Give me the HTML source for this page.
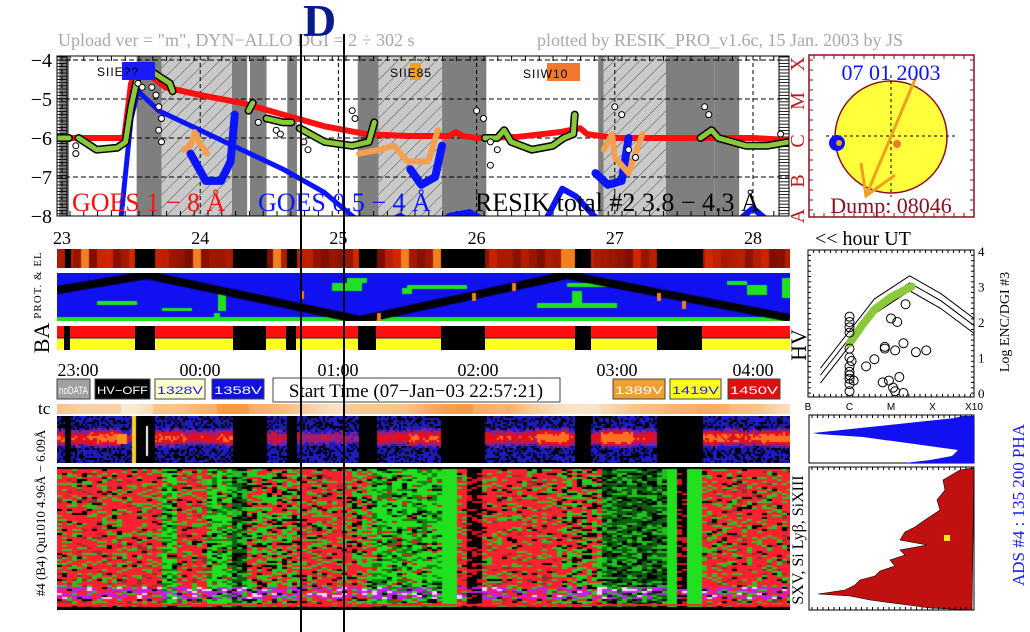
<!DOCTYPE html>
<html><head><meta charset="utf-8"><style>
body{margin:0;background:#fff;width:1030px;height:632px;overflow:hidden;position:relative;font-family:"Liberation Serif",serif}
canvas{position:absolute}
svg{position:absolute;left:0;top:0}
</style></head><body>
<canvas id="prot" width="733" height="19" style="left:57px;top:249px"></canvas>
<canvas id="map" width="733" height="48" style="left:57px;top:273px"></canvas>
<canvas id="tc" width="733" height="10" style="left:57px;top:404px"></canvas>
<canvas id="spec" width="733" height="47" style="left:57px;top:416px"></canvas>
<canvas id="heat" width="733" height="143" style="left:57px;top:467px"></canvas>
<svg id="s" width="1030" height="632" xmlns="http://www.w3.org/2000/svg">
<defs><pattern id="hatch" width="9" height="9" patternUnits="userSpaceOnUse" patternTransform="rotate(45)"><rect width="9" height="9" fill="#c9c9c9"/><line x1="0" y1="0" x2="0" y2="9" stroke="#333" stroke-width="0.8"/></pattern></defs>
<text x="58" y="46" font-size="18" fill="#a8a8a8">Upload ver = "m", DYN−ALLO DGI =   2 ÷ 302 s</text>
<text x="537" y="46" font-size="18" fill="#a8a8a8">plotted by RESIK_PRO_v1.6c, 15 Jan. 2003 by JS</text>
<text x="303" y="36" font-size="46" font-weight="bold" fill="#0a1a8a">D</text>
<g id="main"></g>
<g id="sun"></g>
<g id="low"></g>
<g id="sc"></g>
<line x1="301" y1="34" x2="301" y2="632" stroke="#000" stroke-width="2"/>
<line x1="344" y1="34" x2="344" y2="632" stroke="#000" stroke-width="2"/>
</svg>
<script>
// ---------- data ----------
const hourTicks=[23,24,25,26,27,28];
const yTicks=[-4,-5,-6,-7,-8];
const goesLongT=[22.96,23.45,23.5,23.55,23.6,23.75,24,24.3,24.6,24.9,25.2,25.5,25.8,25.85,25.9,26.0,26.3,26.6,26.75,26.8,27.0,27.3,27.6,28.0,28.26];
const goesLongV=[-6,-6,-4.6,-4.2,-4.3,-4.7,-4.9,-5.1,-5.4,-5.7,-5.9,-5.95,-5.95,-5.85,-5.95,-6,-5.97,-5.85,-5.75,-5.9,-6,-6,-6,-6,-6.05];
const goesShortT=[23.42,23.5,23.55,23.7,24,24.3,24.6,24.9,25.1,25.25];
const goesShortV=[-8.3,-5.5,-4.8,-5.3,-5.8,-6.3,-6.8,-7.4,-8,-8.3];
const blueU1T=[23.93,24.04,24.15,24.22,24.25];const blueU1V=[-6.4,-7.1,-7.1,-6.6,-5.4];
const blueU2T=[25.52,25.6,25.7,25.75];const blueU2V=[-6.8,-7.2,-7.0,-6.2];
const blueU3T=[26.86,26.95,27.05,27.1];const blueU3V=[-6.9,-7.2,-7.1,-6.0];
const blueLowT=[25.25,25.45,25.55,25.7,25.8,25.95,26.1,26.5,26.62,26.72,26.85,26.95,27.9,28.0,28.1];
const blueLowV=[-8.3,-8.0,-8.2,-8.3,-8.0,-7.9,-8.2,-8.1,-7.3,-7.5,-8.0,-8.3,-8.1,-7.8,-8.1];
const orangeSegs=[[[23.88,-6.3],[23.93,-6.2],[23.96,-5.85],[23.99,-6.1],[24.05,-6.4]],[[25.15,-6.4],[25.3,-6.3],[25.4,-6.2],[25.5,-6.6],[25.65,-6.6],[25.72,-5.8]],[[26.92,-6.3],[26.98,-5.9],[27.0,-6.5],[27.1,-6.9],[27.2,-5.9]]];
const greenSegs=[[[22.97,-6.0],[23.05,-6.0]],[[23.12,-6.0],[23.25,-6.3],[23.4,-6.25],[23.46,-6.1],[23.5,-5.2],[23.55,-4.4],[23.6,-4.4]],[[23.65,-4.3],[23.78,-4.6],[23.8,-4.8]],[[24.35,-5.3],[24.38,-5.1]],[[24.48,-5.5],[24.6,-5.6],[24.66,-5.6]],[[24.72,-5.75],[24.9,-6.1],[25.1,-6.2],[25.22,-6.1],[25.26,-5.6]],[[26.06,-6.0],[26.15,-6.0],[26.2,-5.8],[26.25,-6.1],[26.4,-6.3],[26.55,-6.2],[26.63,-6.0],[26.7,-5.9],[26.71,-5.4]],[[27.62,-6.0],[27.7,-5.8],[27.75,-6.0],[27.95,-6.2],[28.1,-6.2],[28.26,-6.1]]];
const circT=[23.1,23.1,23.55,23.58,23.65,23.68,23.7,23.72,23.7,23.72,24.42,24.55,24.58,24.75,24.78,25.1,25.12,26.0,26.05,26.1,26.15,26.1,27.0,27.05,27.1,27.15,27.65,27.68,28.2];
const circV=[-6.2,-6.4,-4.6,-4.7,-4.7,-4.9,-5.2,-5.5,-5.8,-6.1,-5.6,-5.8,-5.9,-6.1,-6.3,-5.3,-5.5,-5.3,-5.5,-6.1,-6.3,-6.7,-5.2,-5.4,-6.3,-6.5,-5.2,-5.4,-5.9];
const darkBands=[[22.98,23.05],[23.54,23.72],[24.23,24.34],[24.36,24.48],[24.63,24.7],[25.14,25.29],[25.75,25.88],[26.88,26.92],[27.0,27.04],[27.72,27.9]];
const hatchBands=[[23.72,24.23],[25.29,25.75],[25.88,26.07],[26.92,27.37]];
const darkBands2=[[25.88,26.07],[27.37,27.72]];
const gapsPx=[[64,70],[135,155],[233,266],[286,296],[358,376],[441,485],[575,591],[657,702]];
// scatter
const hvLineA=[[0.3,0.5],[1,1.55],[1.6,2.45],[2.45,3.1],[3.2,2.6],[4,1.9]];
const hvOff=[-0.22,0,0.2];
const circClass=[1,1,1,1,1,1,1,1,1,1,1,1,1.05,1.1,1.6,1.8,1.85,2.05,2.1,2.1,2.3,2.6,2.85,1.85,2.0,2.15,2.3,2.35,1.95,2.2,1.4];
const circVal=[0.05,0.25,0.5,0.75,1.0,1.25,1.7,1.85,2.0,2.15,0.4,0.6,0.9,0.35,0.95,0.3,1.3,0.15,1.2,0.05,0.0,1.15,1.2,1.25,2.1,2.0,1.4,2.5,0.35,0.45,0.75];
// histograms (pixel-space profile values)
const phaY=[416,418,433,434,437,450,456,460,463];
const phaX=[962,955,813,818,863,958,952,930,905];
const histY=[468,470,480,490,500,510,520,527,532,540,545,550,555,560,566,571,576,580,585,590,594,596,600,604,608,610];
const histX=[972,960,943,945,937,940,925,915,905,900,927,900,905,890,895,880,875,860,855,845,818,850,870,900,930,972];
// ---------- helpers ----------
const NS='http://www.w3.org/2000/svg';
function mk(p,tag,a,txt){const e=document.createElementNS(NS,tag);for(const k in a)e.setAttribute(k,a[k]);if(txt!==undefined)e.textContent=txt;p.appendChild(e);return e;}
const X=t=>62+138.2*(t-23), Y=v=>60+(-4-v)*39;
const main=document.getElementById('main');
mk(main,'rect',{x:57,y:56,width:732,height:160,fill:'#fff'});
darkBands.forEach(b=>{const r=mk(main,'rect',{x:X(b[0]),y:56,width:X(b[1])-X(b[0]),height:160,fill:'#7f7f7f'});});
hatchBands.forEach(b=>{const r=mk(main,'rect',{x:X(b[0]),y:56,width:X(b[1])-X(b[0]),height:160,fill:'url(#hatch)'});});
darkBands2.forEach(b=>{mk(main,'rect',{x:X(b[0]),y:56,width:X(b[1])-X(b[0]),height:160,fill:'#7f7f7f'});});
hourTicks.forEach(t=>{mk(main,'line',{x1:X(t),y1:56,x2:X(t),y2:216,stroke:'#000','stroke-dasharray':'4,3','stroke-width':1});
 const l=mk(main,'text',{x:X(t),y:244,'font-size':18,'text-anchor':'middle'},String(t));});
yTicks.forEach(v=>{mk(main,'line',{x1:57,y1:Y(v),x2:789,y2:Y(v),stroke:'#000','stroke-dasharray':'5,3'});
 const l=mk(main,'text',{x:52,y:Y(v)+7,'font-size':20,'text-anchor':'end'},'−'+(-v));});
for(let y=57;y<216;y+=3.2){mk(main,'line',{x1:57,y1:y,x2:67,y2:y,stroke:'#000','stroke-width':0.9});mk(main,'line',{x1:779,y1:y,x2:789,y2:y,stroke:'#000','stroke-width':0.9});}
mk(main,'line',{x1:67,y1:56,x2:67,y2:216,stroke:'#000'});mk(main,'line',{x1:779,y1:56,x2:779,y2:216,stroke:'#000'});
for(let x=70;x<780;x+=13.8){mk(main,'line',{x1:x,y1:56,x2:x,y2:61,stroke:'#000'});mk(main,'line',{x1:x,y1:216,x2:x,y2:211,stroke:'#000'});}
mk(main,'clipPath',{id:'cp'});document.getElementById('cp').appendChild(document.createElementNS(NS,'rect'));
const cr=document.querySelector('#cp rect');cr.setAttribute('x',57);cr.setAttribute('y',56);cr.setAttribute('width',732);cr.setAttribute('height',160);
const gm=mk(main,'g',{'clip-path':'url(#cp)'});
function plg(T,V,col,w,name){const p=mk(gm,'polyline',{points:T.map((t,i)=>X(t)+','+Y(V[i])).join(' '),fill:'none',stroke:col,'stroke-width':w,'stroke-linejoin':'round','stroke-linecap':'round'});}
plg(goesShortT,goesShortV,'#0a14ff',5,'goes-short-line');
plg(blueLowT,blueLowV,'#0a14ff',6,'goes-short-low');
plg(goesLongT,goesLongV,'#ff1010',6,'goes-long-line');
greenSegs.forEach(s=>{plg(s.map(p=>p[0]),s.map(p=>p[1]),'#000',8,'resik-outline');plg(s.map(p=>p[0]),s.map(p=>p[1]),'#8cc83c',5,'resik-segment');});
[blueU1T,blueU2T,blueU3T].forEach((T,i)=>{const V=[blueU1V,blueU2V,blueU3V][i];plg(T,V,'#0a14ff',8,'goes-short-dip');});
orangeSegs.forEach(s=>{plg([s[0][0]-0.02],[s[0][1]],'#000',9,'resik-dot');plg(s.map(p=>p[0]),s.map(p=>p[1]),'#f5a050',6,'resik-orange-segment');});
circT.forEach((t,i)=>{const c=mk(gm,'circle',{cx:X(t),cy:Y(circV[i]),r:3,fill:'#fff',stroke:'#000','stroke-width':1});});
mk(main,'rect',{x:57,y:56,width:732,height:160,fill:'none',stroke:'#000'});
mk(main,'rect',{x:122,y:62,width:33,height:18,fill:'#1a1aff'});
mk(main,'text',{x:97,y:76,'font-size':12,'font-family':'Liberation Sans,sans-serif','letter-spacing':1},'SIIE??');
mk(main,'rect',{x:410,y:63,width:11,height:17,fill:'#f0a020'});
mk(main,'text',{x:390,y:77,'font-size':12,'font-family':'Liberation Sans,sans-serif','letter-spacing':1},'SIIE85');
mk(main,'rect',{x:547,y:63,width:33,height:18,fill:'#f07830'});
mk(main,'text',{x:523,y:78,'font-size':12,'font-family':'Liberation Sans,sans-serif','letter-spacing':1},'SIIW10');
mk(main,'text',{x:72,y:211,'font-size':26,fill:'#ff1010'},'GOES 1 − 8 Å');
mk(main,'text',{x:258,y:211,'font-size':26,fill:'#0a14ff'},'GOES 0.5 − 4 Å');
mk(main,'text',{x:475,y:211,'font-size':26,fill:'#000'},'RESIK total #2  3.8 − 4.3 Å');
[['A',216],['B',181],['C',141],['M',101],['X',64]].forEach(a=>{const t=mk(main,'text',{x:0,y:0,'font-size':20,fill:'#c01818','text-anchor':'middle',transform:`translate(804,${a[1]}) rotate(-90)`},a[0]);});
mk(main,'text',{x:815,y:245,'font-size':20},'<< hour UT');
// ---------- sun ----------
const sun=document.getElementById('sun');
mk(sun,'rect',{x:809,y:55,width:165,height:162,fill:'#fff',stroke:'#8b1020','stroke-width':1.5});
for(let i=0;i<16;i++){mk(sun,'line',{x1:809,y1:60+i*10,x2:813,y2:60+i*10,stroke:'#8b1020'});mk(sun,'line',{x1:970,y1:60+i*10,x2:974,y2:60+i*10,stroke:'#8b1020'});mk(sun,'line',{x1:814+i*10,y1:55,x2:814+i*10,y2:59,stroke:'#8b1020'});mk(sun,'line',{x1:814+i*10,y1:213,x2:814+i*10,y2:217,stroke:'#8b1020'});}
mk(sun,'circle',{cx:891,cy:137,r:56,fill:'#ffff3c',stroke:'#8b1020','stroke-width':1.5});
mk(sun,'line',{x1:826,y1:136,x2:955,y2:136,stroke:'#000','stroke-dasharray':'3,3'});
mk(sun,'line',{x1:891,y1:75,x2:891,y2:197,stroke:'#000','stroke-dasharray':'3,3'});
mk(sun,'circle',{cx:837,cy:143,r:8,fill:'#0a14ff'});mk(sun,'circle',{cx:839,cy:143,r:3,fill:'#f0a020'});
mk(sun,'circle',{cx:897,cy:144,r:4,fill:'#f07830'});
mk(sun,'polyline',{points:'916,77 866,196',stroke:'#f0a020','stroke-width':3,fill:'none'});
mk(sun,'polyline',{points:'861,163 866,196 895,175',stroke:'#f0a020','stroke-width':3,fill:'none'});
mk(sun,'text',{x:891,y:80,'font-size':22,fill:'#0a14ff','text-anchor':'middle'},'07 01 2003');
mk(sun,'text',{x:891,y:213,'font-size':22,fill:'#8b1020','text-anchor':'middle'},'Dump: 08046');
// ---------- lower labels / legend ----------
const low=document.getElementById('low');
mk(low,'text',{x:0,y:0,'font-size':11,'text-anchor':'middle','letter-spacing':1,transform:'translate(41,285) rotate(-90)'},'PROT. & EL');
mk(low,'text',{x:0,y:0,'font-size':22,'text-anchor':'middle',transform:'translate(49,338) rotate(-90)'},'BA');
mk(low,'text',{x:38,y:414,'font-size':17},'tc');
mk(low,'text',{x:0,y:0,'font-size':13,'text-anchor':'middle',transform:'translate(45,513) rotate(-90)'},'#4 (B4) Qu1010 4.96Å − 6.09Å');
mk(low,'rect',{x:57,y:326,width:733,height:12,fill:'#ff1010'});
mk(low,'rect',{x:57,y:338,width:733,height:12,fill:'#ffff20'});
mk(low,'line',{x1:57,y1:338,x2:790,y2:338,stroke:'#1a1a80','stroke-width':1});
gapsPx.forEach(g=>{const r=mk(low,'rect',{x:g[0],y:326,width:g[1]-g[0],height:24,fill:'#000'});});
[['23:00',78],['00:00',200],['01:00',338],['02:00',478],['03:00',617],['04:00',753]].forEach(a=>{const t=mk(low,'text',{x:a[1],y:376,'font-size':18,'text-anchor':'middle'},a[0]);});
const leg=[['noDATA',57,90,'#a0a0a0','#fff'],['HV−OFF',95,150,'#000','#fff'],['1328V',155,205,'#ffffd0','#1a1aff'],['1358V',212,264,'#1010e0','#fff'],['1389V',613,665,'#f0a030','#fff'],['1419V',670,721,'#ffff20','#1a1aff'],['1450V',728,780,'#e01010','#fff']];
leg.forEach(l=>{const g=mk(low,'g',{});mk(g,'rect',{x:l[1],y:379,width:l[2]-l[1],height:20,fill:l[3],stroke:'#444'});mk(g,'text',{x:(l[1]+l[2])/2,y:394,'font-size':11,fill:l[4],'text-anchor':'middle','font-family':'Liberation Sans,sans-serif',textLength:l[2]-l[1]-4,lengthAdjust:'spacingAndGlyphs'},l[0]);});
mk(low,'rect',{x:273,y:378,width:287,height:24,fill:'#fff',stroke:'#444'});
mk(low,'text',{x:416,y:397,'font-size':19,'text-anchor':'middle'},'Start Time (07−Jan−03 22:57:21)');
mk(low,'text',{x:0,y:0,'font-size':16,'text-anchor':'middle',transform:'translate(803,540) rotate(-90)'},'SXV, Si Lyβ, SiXIII');
mk(low,'text',{x:0,y:0,'font-size':17,fill:'#1a1aff','text-anchor':'middle',transform:'translate(1024,505) rotate(-90)'},'ADS #4 :  135 200  PHA');
mk(low,'rect',{x:809,y:415,width:165,height:48,fill:'#fff',stroke:'#000'});
let d='M974,416 '+phaY.map((y,i)=>'L'+phaX[i]+','+y).join(' ')+' L974,463 Z';
const ph=mk(low,'path',{d:d,fill:'#1010f0'});
mk(low,'rect',{x:809,y:467,width:165,height:143,fill:'#fff',stroke:'#000'});
d='M974,468 '+histY.map((y,i)=>'L'+histX[i]+','+y).join(' ')+' Z';
const hh=mk(low,'path',{d:d,fill:'#c01010',stroke:'#000','stroke-width':0.6});
mk(low,'rect',{x:944,y:535,width:6,height:6,fill:'#ffee00'});
for(let x=812;x<974;x+=5.5){mk(low,'line',{x1:x,y1:467,x2:x,y2:470,stroke:'#000'});mk(low,'line',{x1:x,y1:610,x2:x,y2:607,stroke:'#000'});mk(low,'line',{x1:x,y1:415,x2:x,y2:418,stroke:'#000'});}
// ---------- scatter ----------
const sc=document.getElementById('sc');
const SX=c=>808+41.5*c, SY=v=>393-35.5*v;
mk(sc,'rect',{x:808,y:250,width:166,height:147,fill:'#fff',stroke:'#000'});
for(let i=0;i<30;i++){mk(sc,'line',{x1:808+i*5.6,y1:250,x2:808+i*5.6,y2:253,stroke:'#000'});mk(sc,'line',{x1:808+i*5.6,y1:397,x2:808+i*5.6,y2:394,stroke:'#000'});}
for(let i=0;i<28;i++){mk(sc,'line',{x1:808,y1:250+i*5.3,x2:811,y2:250+i*5.3,stroke:'#000'});mk(sc,'line',{x1:974,y1:250+i*5.3,x2:971,y2:250+i*5.3,stroke:'#000'});}
mk(sc,'clipPath',{id:'cp2'});const c2=document.createElementNS(NS,'rect');c2.setAttribute('x',808);c2.setAttribute('y',250);c2.setAttribute('width',166);c2.setAttribute('height',147);document.getElementById('cp2').appendChild(c2);
const sg=mk(sc,'g',{'clip-path':'url(#cp2)'});
hvOff.forEach(o=>{const p=mk(sg,'polyline',{points:hvLineA.map(p=>SX(p[0])+','+SY(p[1]+o)).join(' '),fill:'none',stroke:'#000','stroke-width':1});});
const gb=mk(sg,'polyline',{points:[[1,1.4],[1.3,1.9],[1.6,2.35],[2,2.7],[2.5,3.0]].map(p=>SX(p[0])+','+SY(p[1])).join(' '),fill:'none',stroke:'#8cc83c','stroke-width':8,'stroke-linecap':'round'});
circClass.forEach((c,i)=>{const e=mk(sg,'circle',{cx:SX(c),cy:SY(circVal[i]),r:4.5,fill:'none',stroke:'#000','stroke-width':1});});
['0','1','2','3','4'].forEach((t,i)=>mk(sc,'text',{x:978,y:SY(i)+5,'font-size':13},t));
['B','C','M','X','X10'].forEach((t,i)=>mk(sc,'text',{x:SX(i),y:410,'font-size':10,'text-anchor':'middle','font-family':'Liberation Sans,sans-serif'},t));
mk(sc,'text',{x:0,y:0,'font-size':14,'text-anchor':'middle',transform:'translate(1009,322) rotate(-90)'},'Log ENC/DGI #3');
mk(sc,'text',{x:0,y:0,'font-size':22,'text-anchor':'middle',transform:'translate(806,345) rotate(-90)'},'HV');
// ---------- canvases (textures) ----------
function h(i,j){let n=Math.imul(i,374761393)+Math.imul(j,668265263);n=Math.imul(n^(n>>>13),1274126177);return ((n^(n>>>16))>>>0)/4294967296;}
const inGap=x=>gapsPx.some(g=>x+57>=g[0]&&x+57<g[1]);
let c=document.getElementById('prot').getContext('2d');
for(let x=0;x<733;x+=2){const r=h(x>>3,7);c.fillStyle=inGap(x)?'#000':(r<0.08?'#f08020':`rgb(${110+r*100|0},${10+r*30|0},0)`);c.fillRect(x,0,2,19);}
c=document.getElementById('map').getContext('2d');
c.fillStyle='#1010f0';c.fillRect(0,0,733,48);c.fillStyle='#20e020';c.fillRect(0,44,733,4);
[[165,20,8,18],[160,40,6,6],[290,10,30,8],[300,5,20,5],[350,15,10,6],[380,12,60,4],[520,18,10,14],[520,30,80,5],[540,10,60,4],[680,8,20,4],[700,12,20,10],[730,5,10,20],[60,28,40,4],[120,35,30,3]].forEach(p=>{c.fillRect(p[0]-p[2]/2,p[1],p[2],p[3]);});
c.strokeStyle='#000';c.lineWidth=8;c.beginPath();[[0,17],[90,2],[303,47],[510,2],[733,45]].forEach((p,i)=>i?c.lineTo(p[0],p[1]):c.moveTo(p[0],p[1]));c.stroke();
c.fillStyle='#f08020';[[243,18],[320,40],[415,20],[455,10],[600,20],[625,28]].forEach(p=>c.fillRect(p[0],p[1],4,8));
c=document.getElementById('tc').getContext('2d');
for(let x=0;x<733;x+=4){const r=0.5+0.5*Math.sin(x/37)*h(x>>5,3);c.fillStyle=`rgb(248,${150+r*90|0},${60+r*160|0})`;c.fillRect(x,0,4,10);}
c=document.getElementById('spec').getContext('2d');
c.fillStyle='#000';c.fillRect(0,0,733,47);
for(let x=0;x<733;x+=2)for(let y=0;y<47;y+=2){if(inGap(x))continue;const r=h(x,y+100);const band=Math.exp(-Math.pow((y-21)/9,2));const amp=0.45+0.55*h(x>>5,9);
 let col=null;const v=band*amp+0.25*(r-0.5);
 if(v>0.75)col='#ff7020';else if(v>0.5)col='#e01020';else if(v>0.35)col='#8020a0';else if(r<0.6)col=r<0.2?'#202090':'#1a1ad8';
 if(col){c.fillStyle=col;c.fillRect(x,y,2,2);}}
c.fillStyle='#ffd020';c.fillRect(75,0,4,47);c.fillStyle='#fff';c.fillRect(89,10,2,30);c.fillStyle='#ff9020';c.fillRect(60,18,10,10);
c=document.getElementById('heat').getContext('2d');
const bandsHM=[[0,103,'r'],[103,118,'g'],[118,148,'r'],[148,173,'g'],[173,188,'d'],[188,243,'m'],[243,293,'r'],[293,313,'m'],[313,383,'g'],[383,399,'G'],[399,409,'r'],[409,421,'k'],[421,503,'r'],[503,543,'m'],[543,606,'d'],[606,616,'G'],[616,629,'k'],[629,641,'G'],[641,733,'r']];
c.fillStyle='#000';c.fillRect(0,0,733,143);
for(let x=0;x<733;x+=5)for(let y=2;y<140;y+=2){const b=bandsHM.find(b=>x>=b[0]&&x<b[1]);const t=b?b[2]:'r';const r=h(x,y);let col;
 if(t==='G')col='#20e020';else if(t==='k')col=r<0.3?'#e01020':'#000';
 else if(t==='r')col=r<0.62?'#ff2030':r<0.85?'#30c020':r<0.93?'#903030':'#000';
 else if(t==='m')col=r<0.4?'#ff2030':r<0.8?'#20d020':'#000';
 else if(t==='g')col=r<0.55?'#20e020':r<0.8?'#108010':r<0.9?'#000':'#e02020';
 else col=r<0.35?'#106010':r<0.65?'#20c020':r<0.9?'#000':'#004000';
 if(y>118&&y<132&&t!=='G'&&h(x,y+7)<0.5)col=h(x,y+9)<0.2?'#ffd0ff':'#c020f0';
 c.fillStyle=col;c.fillRect(x,y,5,2);}
c.fillStyle='#ff2030';for(let x=0;x<733;x+=5)c.fillRect(x,137,5,2);
</script>
</body></html>
